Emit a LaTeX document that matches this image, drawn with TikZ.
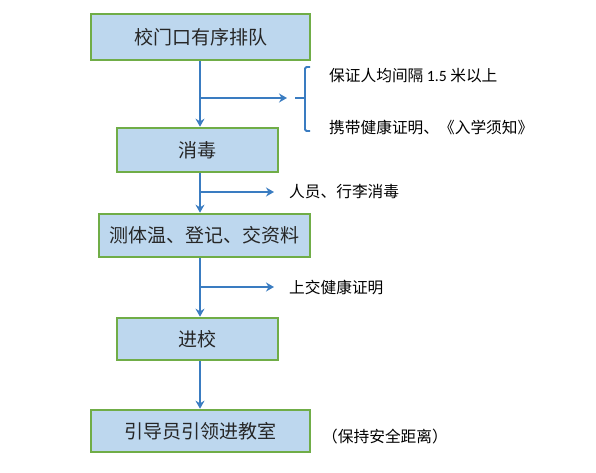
\documentclass[tikz,border=0pt]{standalone}
\usepackage{fontspec}
\setmainfont{Carlito}
\newfontfamily\cjk{Noto Sans CJK SC}
\usetikzlibrary{arrows.meta}
\definecolor{boxfill}{HTML}{BDD7EE}
\definecolor{boxline}{HTML}{70AD47}
\definecolor{arrowblue}{HTML}{3A7CC1}
\tikzset{
  flowbox/.style={draw=boxline, fill=boxfill, line width=2.6pt, inner sep=0pt,
    font=\cjk\fontsize{19}{21}\selectfont, text=black!85},
  note/.style={anchor=west, inner sep=0pt, font=\cjk\fontsize{15.7}{17}\selectfont},
  flow/.style={draw=arrowblue, line width=1.8pt, -{Stealth[length=8pt,width=9pt]}},
  brk/.style={draw=arrowblue, line width=1.8pt}
}
\begin{document}
\begin{tikzpicture}[x=1pt,y=-1pt]
\useasboundingbox (0,0) rectangle (596,473);
\node[flowbox, minimum width=219pt, minimum height=46pt] (b1) at (200.5,37) {校门口有序排队};
\node[flowbox, minimum width=161pt, minimum height=44pt] (b2) at (197.5,150) {消毒};
\node[flowbox, minimum width=211pt, minimum height=43pt] (b3) at (204.5,235.5) {测体温、登记、交资料};
\node[flowbox, minimum width=161pt, minimum height=42pt] (b4) at (197.5,339) {进校};
\node[flowbox, minimum width=219pt, minimum height=42pt] (b5) at (200.5,431) {引导员引领进教室};

\coordinate (s1) at (200,61.3);
\coordinate (e1) at (200,126.7);
\coordinate (s2) at (200,173.3);
\coordinate (e2) at (200,212.7);
\coordinate (s3) at (200,258.3);
\coordinate (e3) at (200,316.7);
\coordinate (s4) at (200,361.3);
\coordinate (e4) at (200,408.7);
\draw[flow] (s1) -- (e1);
\draw[flow] (s2) -- (e2);
\draw[flow] (s3) -- (e3);
\draw[flow] (s4) -- (e4);

\coordinate (j1) at (200,98);
\coordinate (t1) at (287,98);
\draw[flow] (j1) -- (t1);
\coordinate (j2) at (200,192);
\coordinate (t2) at (274,192);
\draw[flow] (j2) -- (t2);
\coordinate (j3) at (200,287);
\coordinate (t3) at (274,287);
\draw[flow] (j3) -- (t3);

\coordinate (k1) at (295,98);
\coordinate (k2) at (305,98);
\draw[brk] (k1) -- (k2);
\coordinate (c1) at (310,67);
\coordinate (c4) at (310,131);
\draw[brk, rounded corners=1.5pt] (c1) -- (305,67) -- (305,131) -- (c4);

\node[note] (n1) at (329,76) {\cjk 保证人均间隔 {\normalfont\fontsize{15.7}{17}\selectfont 1.5} 米以上};
\node[note] (n2) at (329,128) {携带健康证明、《入学须知》};
\node[note] (n3) at (289,192) {人员、行李消毒};
\node[note] (n4) at (289,288) {上交健康证明};
\node[note] (n5) at (322,437) {（保持安全距离）};
\end{tikzpicture}
\end{document}
